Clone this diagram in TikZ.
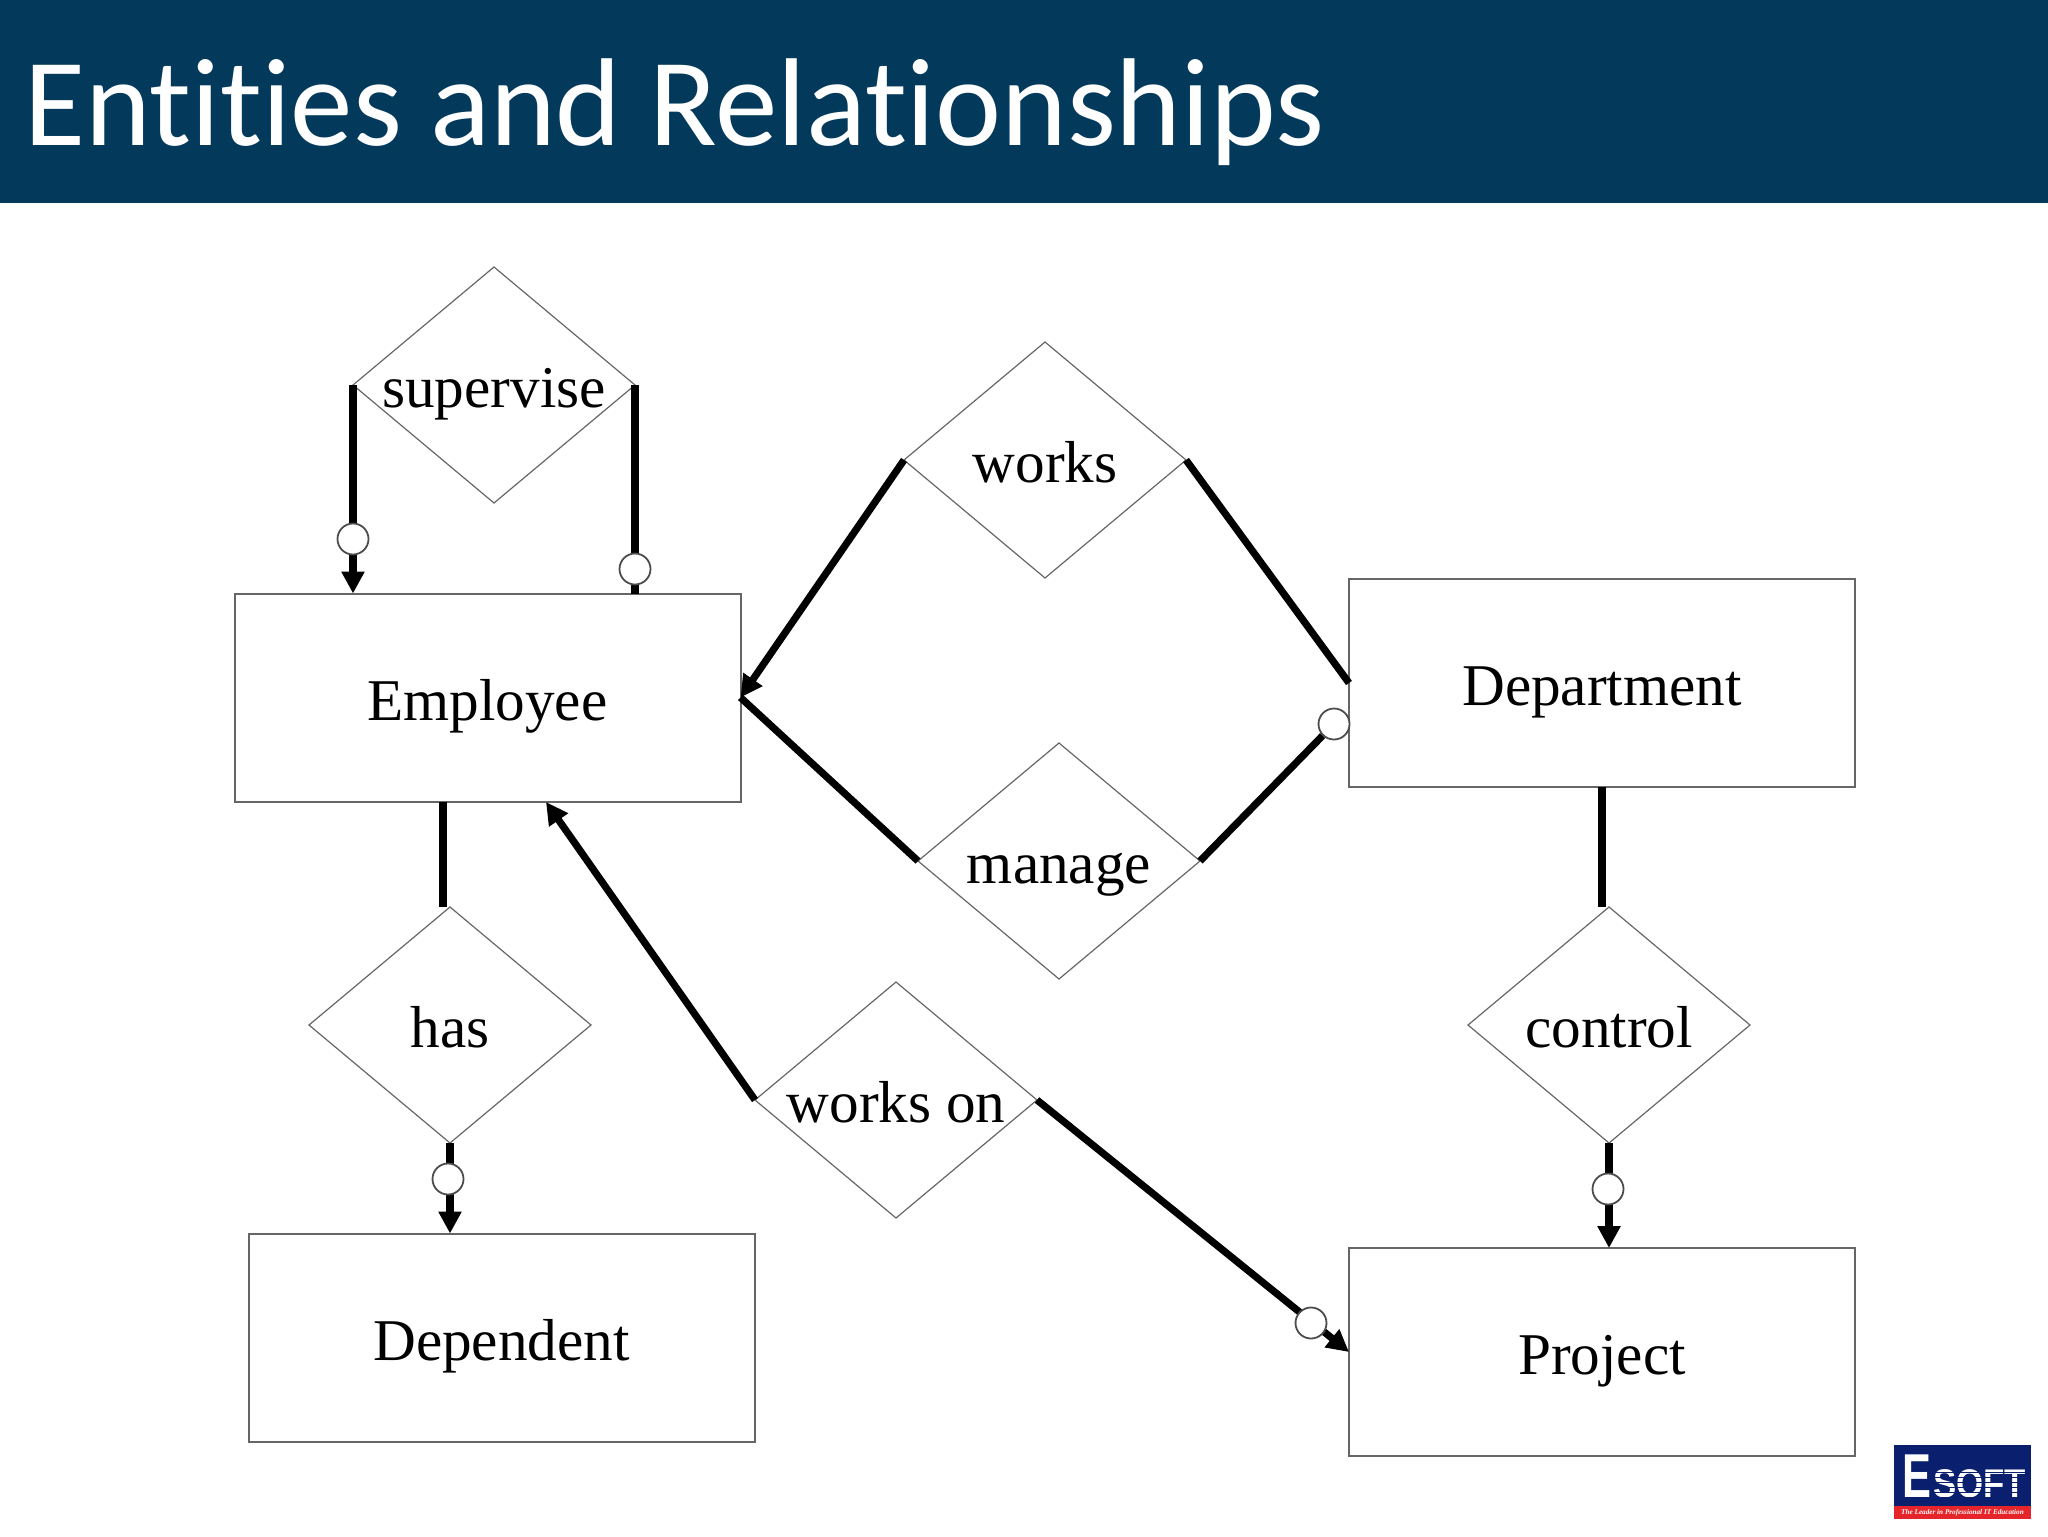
\documentclass[tikz,border=0pt]{standalone}
\usepackage{fontspec}
\setmainfont{Liberation Serif}
\newfontfamily\titlefont[Ligatures=NoCommon]{Carlito}
\newfontfamily\logofont{Liberation Sans}
\usetikzlibrary{
    arrows.meta,
    shapes.geometric,
    positioning
}
\definecolor{headerblue}{HTML}{033A5C}
\definecolor{logoblue}{HTML}{0A1F6E}
\definecolor{logored}{HTML}{E5252A}
\definecolor{boxline}{HTML}{666666}
\tikzset{
    >={Stealth[length=11pt,width=11pt,inset=0pt]},
    entity/.style={draw=boxline, line width=1pt, rectangle, minimum width=253pt, minimum height=104pt, outer sep=0pt, text height=22.6pt, text depth=0pt, font=\fontsize{29.6}{32}\selectfont},
    relation/.style={draw=boxline, line width=.6pt, diamond, aspect=1.2, inner sep=0pt, minimum width=141pt, minimum height=118pt, outer sep=0pt, text height=22.6pt, text depth=0pt, font=\fontsize{29.6}{32}\selectfont},
    link/.style={line width=3.6pt},
    optional/.style={draw=black!70, line width=.9pt, circle, fill=white, inner sep=0pt, minimum size=15.5pt},
}

\begin{document}
\begin{tikzpicture}[x=.5pt,y=-.5pt]
   \useasboundingbox (0,0) rectangle (2048,1536);
   \fill[headerblue] (0,0) rectangle (2048,202.5);
   \node[anchor=base west, inner sep=0pt, text=white, font=\titlefont\fontsize{62.5}{66}\selectfont] (title) at (24,145) {Entities and Relationships};

   % entities
   \node[entity] (employee) at (487.5,697.5) {Employee};
   \node[entity] (department) at (1602,683) {Department};
   \node[entity] (dependent) at (501.5,1337.5) {Dependent};
   \node[entity] (project) at (1602,1352) {Project};

   % relations
   \node[relation] (supervise) at (494,385) {supervise};
   \node[relation] (works) at (1045,460) {works};
   \node[relation] (manage) at (1059,861) {manage};
   \node[relation] (has) at (450,1025) {has};
   \node[relation] (workson) at (896,1100) {works on};
   \node[relation] (control) at (1609,1025) {control};

   % free ends
   \coordinate (hasend) at (443,907);
   \coordinate (controlend) at (1602,907);
   \coordinate (worksonend) at (546,802);

   % connectors
   \draw[link,->] (supervise.west) -- (supervise.west |- employee.north);
   \draw[link] (supervise.east) -- (supervise.east |- employee.north);
   \draw[link,->] (works.west) -- (employee.east);
   \draw[link] (works.east) -- (department.west);
   \draw[link] (manage.west) -- (employee.east);
   \draw[link] (hasend |- employee.south) -- (hasend);
   \draw[link,->] (has.south) -- (has.south |- dependent.north);
   \draw[link,->] (workson.west) -- (worksonend);
   \draw[link,->] (workson.east) -- (project.west);
   \draw[link] (controlend |- department.south) -- (controlend);
   \draw[link,->] (control.south) -- (control.south |- project.north);

   % optional marks
   \node[optional] (optsupa) at (353,539) {};
   \node[optional] (optsupb) at (635,569) {};
   \node[optional] (optdept) at (1334,724) {};
   \node[optional] (opthas) at (448,1179) {};
   \node[optional] (optcontrol) at (1608,1189) {};
   \node[optional] (optworkson) at (1311,1323) {};
   \draw[link] (manage.east) -- (optdept);

   % logo
   \fill[logoblue] (1894,1445) rectangle (2031,1506);
   \fill[logored] (1894,1506) rectangle (2031,1519);
   \node[anchor=base west, inner sep=0pt, text=white, font=\logofont\bfseries\fontsize{31}{31}\selectfont] (logoe) at (1902,1497) {\scalebox{.7}[1]{E}};
   \node[anchor=base west, inner sep=0pt, text=white, font=\logofont\bfseries\fontsize{20}{20}\selectfont] (logosoft) at (1933,1497) {\scalebox{.87}[1]{SOFT}};
   \foreach \y in {1472,1477,...,1497}
      \draw[logoblue, line width=.5pt] (1933,\y) -- (2027,\y);
   \node[inner sep=0pt, text=white, font=\bfseries\itshape\fontsize{3.6}{4}\selectfont] (logotag) at (1962.5,1513) {The Leader in Professional IT Education};
\end{tikzpicture}
\end{document}
